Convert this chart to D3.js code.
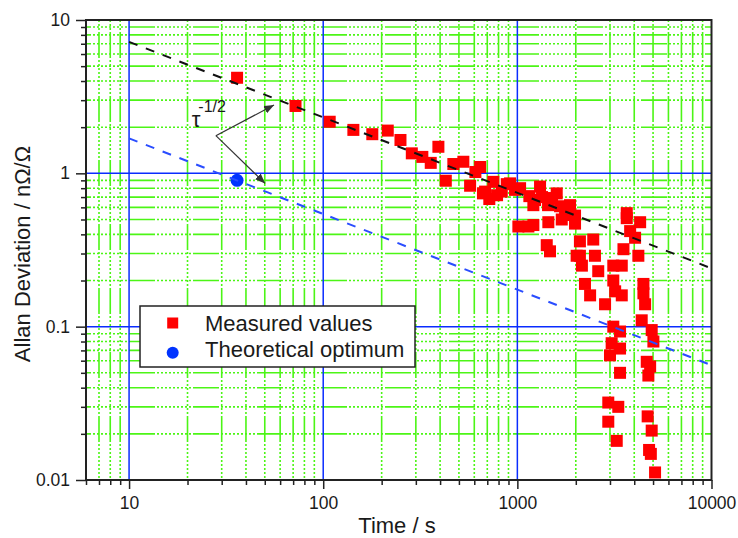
<!DOCTYPE html>
<html>
<head>
<meta charset="utf-8">
<script src="https://cdn.jsdelivr.net/npm/d3@7"></script>
<style>
  html, body { margin: 0; padding: 0; background: #fff; }
  svg { display: block; }
  text { font-family: "Liberation Sans", Arial, Helvetica, sans-serif; fill: #1a1a1a; }
</style>
</head>
<body>
<svg id="chart" width="738" height="538"></svg>
<script>
// Averaging time (s) and Allan deviation (nΩ/Ω) of the measured series
const measTau = [
  36, 72, 108, 143, 179, 215, 250, 286, 324, 358, 392, 428, 468, 527, 571, 608, 643,
  665, 682, 717, 752, 786, 831, 882, 917, 973, 1033, 1153, 1209, 1234, 1309, 1340, 1439, 1509,
  1595, 1659, 1761, 1868, 1982,
  1012, 1140, 1209, 1444, 1693, 1982, 1417, 1473,
  2100, 2460, 2020, 2100, 2150, 2510, 2610, 3120, 3450,
  3660, 3660, 4290, 3810, 4040, 3520, 4200,
  2230, 2370, 3120, 3190, 3450, 2830, 4460, 4460, 4550,
  4370, 3120, 3380, 4920, 5020, 3060, 3380, 3000, 4640, 4830, 4730, 3380,
  2940, 3310, 2940, 3250, 4690, 4920, 4770, 4870, 5120
];
const measDev = [
  4.2, 2.75, 2.17, 1.92, 1.80, 1.90, 1.65, 1.35, 1.28, 1.17, 1.49, 0.895, 1.15, 1.19, 0.83, 1.02, 1.10,
  0.74, 0.76, 0.68, 0.88, 0.72, 0.76, 0.85, 0.86, 0.78, 0.80, 0.71, 0.62, 0.67, 0.82, 0.70, 0.62, 0.69,
  0.74, 0.61, 0.535, 0.62, 0.53,
  0.45, 0.45, 0.46, 0.48, 0.50, 0.47, 0.34, 0.31,
  0.36, 0.37, 0.29, 0.29, 0.25, 0.29, 0.23, 0.25, 0.25,
  0.55, 0.51, 0.48, 0.42, 0.38, 0.32, 0.29,
  0.19, 0.16, 0.20, 0.17, 0.16, 0.14, 0.19, 0.165, 0.14,
  0.11, 0.10, 0.093, 0.095, 0.080, 0.078, 0.072, 0.065, 0.059, 0.055, 0.048, 0.050,
  0.032, 0.030, 0.024, 0.018, 0.026, 0.021, 0.0157, 0.0148, 0.0112
];

// Theoretical optimum point
const optTau = [36];
const optDev = [0.90];

// τ^-1/2 guide lines (end points)
const guideTau = [10, 10000];
const guideMeasured = [7.2, 0.24];
const guideOptimum = [1.69, 0.056];

// Annotation: arrow origin and two arrow tips, label anchor
const arrowFrom = [28, 1.76];
const arrowTips = [[55.8, 2.79], [50.2, 0.86]];
const labelAt = [21, 2.0];

// Axis ticks
const xMajor = [10, 100, 1000, 10000];
const xMajorLabels = ["10", "100", "1000", "10000"];
const xMinor = [6, 7, 8, 9, 20, 30, 40, 50, 60, 70, 80, 90,
  200, 300, 400, 500, 600, 700, 800, 900, 2000, 3000, 4000, 5000, 6000, 7000, 8000, 9000];
const yMajor = [0.01, 0.1, 1, 10];
const yMajorLabels = ["0.01", "0.1", "1", "10"];
const yMinor = [0.02, 0.03, 0.04, 0.05, 0.06, 0.07, 0.08, 0.09,
  0.2, 0.3, 0.4, 0.5, 0.6, 0.7, 0.8, 0.9, 2, 3, 4, 5, 6, 7, 8, 9];
const xGridMajor = [10, 100, 1000];
const yGridMajor = [0.1, 1];

const svg = d3.select("#chart");
const L = 86, R = 711.5, T = 20, B = 480;

const x = d3.scaleLog().domain([6, 10000]).range([L, R]);
const y = d3.scaleLog().domain([0.01, 10]).range([B, T]);

const GREEN = "#4cf516";
const BLUE_GRID = "#0a2cff";
const gridDash = "26 2 2 2 2 2 2 2 2 2 2 2 2 2 2 2 2 2 2 2";

// Minor grid (dash-dot pattern)
const grid = svg.append("g");
grid.selectAll("line.hminor").data(yMinor).join("line")
  .attr("x1", L).attr("x2", R)
  .attr("y1", d => y(d)).attr("y2", d => y(d))
  .attr("stroke", GREEN).attr("stroke-width", 1.6)
  .attr("stroke-dasharray", gridDash).attr("stroke-dashoffset", 21);
grid.selectAll("line.vminor").data(xMinor).join("line")
  .attr("x1", d => x(d)).attr("x2", d => x(d))
  .attr("y1", B).attr("y2", T)
  .attr("stroke", GREEN).attr("stroke-width", 1.6)
  .attr("stroke-dasharray", gridDash).attr("stroke-dashoffset", 26);

// Major grid
grid.selectAll("line.hmajor").data(yGridMajor).join("line")
  .attr("x1", L).attr("x2", R)
  .attr("y1", d => y(d)).attr("y2", d => y(d))
  .attr("stroke", BLUE_GRID).attr("stroke-width", 1.5);
grid.selectAll("line.vmajor").data(xGridMajor).join("line")
  .attr("x1", d => x(d)).attr("x2", d => x(d))
  .attr("y1", B).attr("y2", T)
  .attr("stroke", BLUE_GRID).attr("stroke-width", 1.5);

// Measured values
const meas = measTau.map((t, i) => [t, measDev[i]]);
const sq = 12;
svg.append("g").selectAll("rect").data(meas).join("rect")
  .attr("x", d => x(d[0]) - sq / 2)
  .attr("y", d => y(d[1]) - sq / 2)
  .attr("width", sq).attr("height", sq)
  .attr("fill", "#ff0000");

// Theoretical optimum
svg.append("g").selectAll("circle").data(optTau.map((t, i) => [t, optDev[i]])).join("circle")
  .attr("cx", d => x(d[0])).attr("cy", d => y(d[1]))
  .attr("r", 6.5).attr("fill", "#0033ff");

// Guide lines
const line = d3.line().x(d => x(d[0])).y(d => y(d[1]));
svg.append("path")
  .attr("d", line(guideTau.map((t, i) => [t, guideMeasured[i]])))
  .attr("fill", "none").attr("stroke", "#111").attr("stroke-width", 2)
  .attr("stroke-dasharray", "9 9");
svg.append("path")
  .attr("d", line(guideTau.map((t, i) => [t, guideOptimum[i]])))
  .attr("fill", "none").attr("stroke", "#2a4dff").attr("stroke-width", 2)
  .attr("stroke-dasharray", "9 9");

// Frame
svg.append("rect")
  .attr("x", L).attr("y", T).attr("width", R - L).attr("height", B - T)
  .attr("fill", "none").attr("stroke", "#222").attr("stroke-width", 2);

// Axes
function styleAxis(g) {
  g.select(".domain").remove();
  g.selectAll(".tick line").attr("stroke", "#222").attr("stroke-width", 1.5);
  g.selectAll(".tick text").style("font-size", "17.5px").attr("fill", "#2a2a2a");
}
svg.append("g").attr("transform", `translate(${L},0)`)
  .call(d3.axisLeft(y).tickValues(yMinor).tickSize(5).tickFormat(""))
  .call(styleAxis);
svg.append("g").attr("transform", `translate(${L},0)`)
  .call(d3.axisLeft(y).tickValues(yMajor).tickSize(10).tickPadding(6)
    .tickFormat((d, i) => yMajorLabels[i]))
  .call(styleAxis);
svg.append("g").attr("transform", `translate(0,${B})`)
  .call(d3.axisBottom(x).tickValues(xMinor).tickSize(5).tickFormat(""))
  .call(styleAxis);
svg.append("g").attr("transform", `translate(0,${B})`)
  .call(d3.axisBottom(x).tickValues(xMajor).tickSize(9).tickPadding(8)
    .tickFormat((d, i) => xMajorLabels[i]))
  .call(styleAxis);

// Axis titles
svg.append("text")
  .attr("x", 397).attr("y", 533)
  .attr("text-anchor", "middle").style("font-size", "22px")
  .text("Time / s");
svg.append("text")
  .attr("transform", "translate(29.5,254) rotate(-90)")
  .attr("text-anchor", "middle").style("font-size", "22px")
  .text("Allan Deviation / nΩ/Ω");

// Annotation
const defs = svg.append("defs");
defs.append("marker")
  .attr("id", "arrowhead").attr("viewBox", "0 0 10 8")
  .attr("refX", 10).attr("refY", 4)
  .attr("markerWidth", 10).attr("markerHeight", 8)
  .attr("markerUnits", "userSpaceOnUse").attr("orient", "auto")
  .append("path").attr("d", "M0,0 L10,4 L0,8 Z").attr("fill", "#333");
arrowTips.forEach(tip => {
  svg.append("line")
    .attr("x1", x(arrowFrom[0])).attr("y1", y(arrowFrom[1]))
    .attr("x2", x(tip[0])).attr("y2", y(tip[1]))
    .attr("stroke", "#333").attr("stroke-width", 1.2)
    .attr("marker-end", "url(#arrowhead)");
});
const lab = svg.append("text")
  .attr("x", x(labelAt[0])).attr("y", y(labelAt[1]))
  .style("font-size", "22px");
lab.append("tspan").text("τ");
lab.append("tspan").attr("dx", -2).attr("dy", -15.5)
  .style("font-size", "16px").text("-1/2");

// Legend
const lg = svg.append("g");
lg.append("rect")
  .attr("x", 140).attr("y", 306).attr("width", 275).attr("height", 61)
  .attr("fill", "#fff").attr("stroke", "#222").attr("stroke-width", 1.5);
lg.append("rect")
  .attr("x", 172.7 - 5.5).attr("y", 323 - 5.5).attr("width", 11).attr("height", 11)
  .attr("fill", "#ff0000");
lg.append("circle")
  .attr("cx", 172.7).attr("cy", 352.7).attr("r", 6).attr("fill", "#0033ff");
lg.append("text").attr("x", 205).attr("y", 330.5)
  .style("font-size", "22px").text("Measured values");
lg.append("text").attr("x", 205).attr("y", 357)
  .style("font-size", "22px").text("Theoretical optimum");
</script>
</body>
</html>
